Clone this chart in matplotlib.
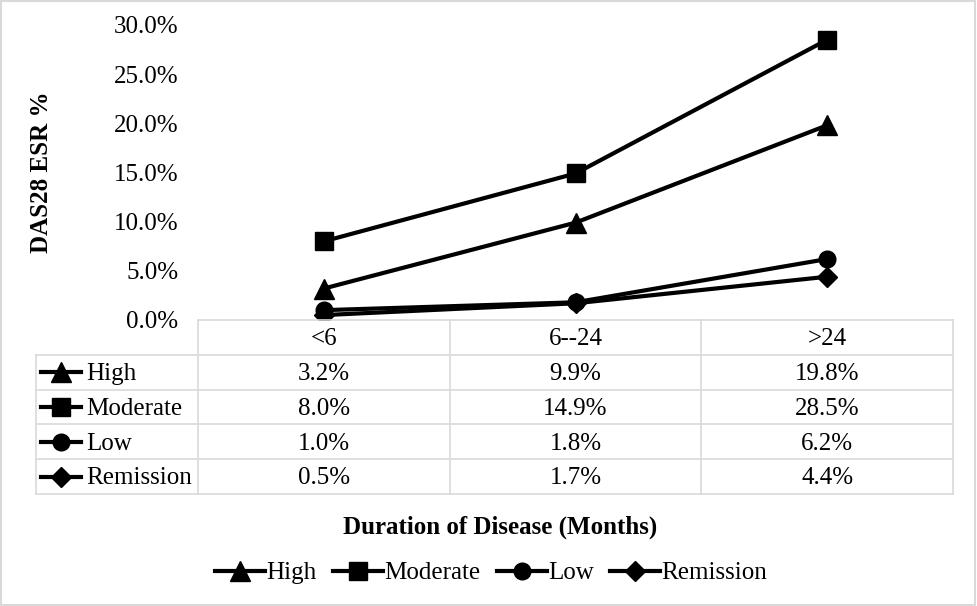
import matplotlib.pyplot as plt
from matplotlib.patches import Rectangle
from matplotlib.lines import Line2D

# data
categories = ['<6', '6--24', '>24']
series_names = ['High', 'Moderate', 'Low', 'Remission']
high = [3.2, 9.9, 19.8]
moderate = [8.0, 14.9, 28.5]
low = [1.0, 1.8, 6.2]
remission = [0.5, 1.7, 4.4]
yticks = [0, 5, 10, 15, 20, 25, 30]

series = [high, moderate, low, remission]
markers = ['^', 's', 'o', 'D']
msizes = [14, 13, 12, 10]

plt.rcParams['font.family'] = ['Liberation Serif', 'DejaVu Serif']
W, H = 977, 606
fig = plt.figure(figsize=(W / 100, H / 100), dpi=100)
fs = 18

def px_box(x0, y0, x1, y1):
    return [x0 / W, 1 - y1 / H, (x1 - x0) / W, (y1 - y0) / H]

grid = '#d9d9d9'
# outer border
fig.patches.append(Rectangle((0.001, 0.002), 0.997, 0.996, transform=fig.transFigure,
                             fill=False, edgecolor=grid, lw=1.5))

# plot area
ax = fig.add_axes(px_box(198, 25, 953, 320))
x = list(range(len(categories)))
for vals, mk, ms, name in zip(series, markers, msizes, series_names):
    ax.plot(x, vals, color='black', lw=3, marker=mk, markersize=ms, label=name)
ax.set_xlim(-0.5, 2.5)
ax.set_ylim(0, 30)
ax.set_yticks(yticks)
ax.set_yticklabels(['%.1f%%' % v for v in yticks], fontsize=fs)
ax.tick_params(axis='y', length=0, pad=14)
ax.set_xticks([])
for s in ax.spines.values():
    s.set_visible(False)
ax.patch.set_alpha(0)
fig.text(42 / W, 1 - 172 / H, 'DAS28 ESR %', rotation=90, ha='center', va='center',
         fontsize=fs, fontweight='bold')

# data table
tax = fig.add_axes(px_box(36, 320, 953, 494))
left_w = (198 - 36) / ((953 - 198) / 3)
x_left = -0.5 - left_w
tax.set_xlim(x_left, 2.5)
tax.set_ylim(5, 0)
tax.axis('off')
# horizontal lines
tax.plot([-0.5, 2.5], [0, 0], color=grid, lw=1.2, clip_on=False)
for r in range(1, 6):
    tax.plot([x_left, 2.5], [r, r], color=grid, lw=1.2, clip_on=False)
# vertical lines
tax.plot([x_left, x_left], [1, 5], color=grid, lw=1.2, clip_on=False)
for c in range(4):
    tax.plot([c - 0.5, c - 0.5], [0, 5], color=grid, lw=1.2, clip_on=False)
for c, cat in enumerate(categories):
    tax.text(c, 0.55, cat, ha='center', va='center', fontsize=fs)
for r, (vals, mk, ms, name) in enumerate(zip(series, markers, msizes, series_names), start=1):
    kx0 = x_left + 0.02
    kx1 = x_left + 0.18
    tax.plot([kx0, kx1], [r + 0.5, r + 0.5], color='black', lw=3, clip_on=False)
    tax.plot([(kx0 + kx1) / 2], [r + 0.5], color='black', marker=mk, markersize=ms, clip_on=False)
    tax.text(kx1 + 0.02, r + 0.55, name, ha='left', va='center', fontsize=fs)
    for c, v in enumerate(vals):
        tax.text(c, r + 0.55, '%.1f%%' % v, ha='center', va='center', fontsize=fs)

fig.text(500 / W, 1 - 527 / H, 'Duration of Disease (Months)', ha='center', va='center',
         fontsize=fs, fontweight='bold')

handles = [Line2D([0], [0], color='black', lw=3, marker=mk, markersize=ms)
           for mk, ms in zip(markers, msizes)]
fig.legend(handles, series_names, loc='center', bbox_to_anchor=(491 / W, 1 - 573 / H),
           ncol=4, frameon=False, fontsize=fs, handlelength=2.0, handletextpad=0.05,
           columnspacing=0.65)

fig.savefig('out.png', dpi=100)
